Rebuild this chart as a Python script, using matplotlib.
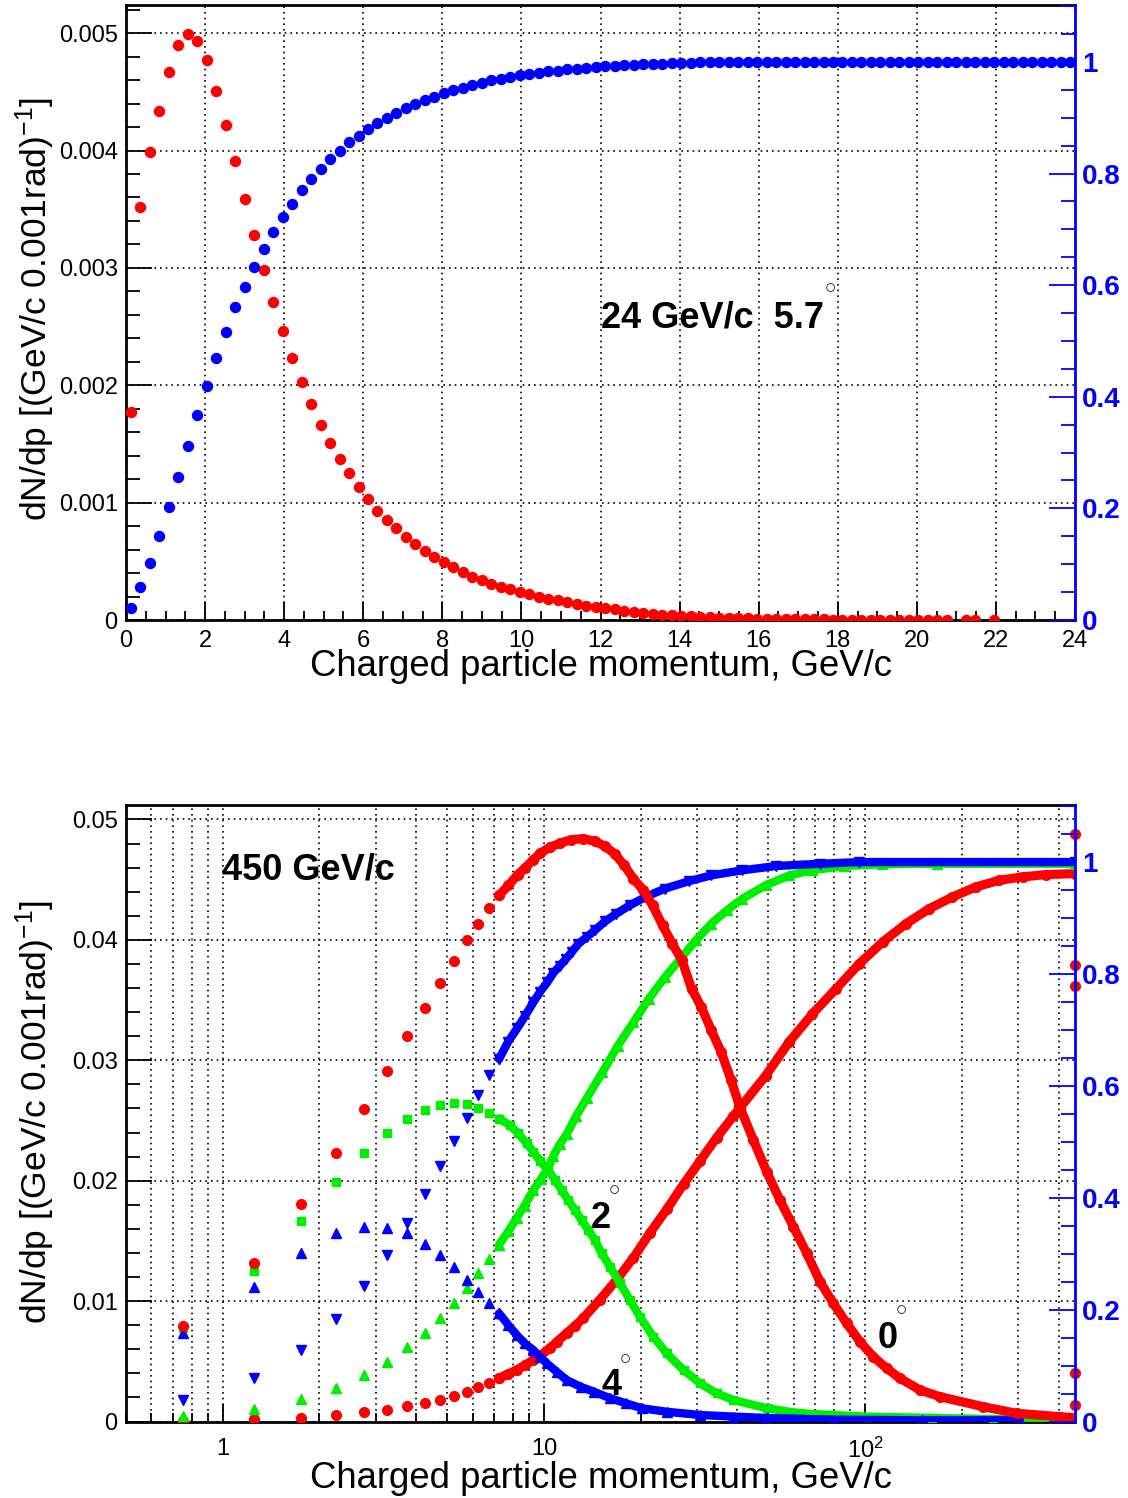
import numpy as np
import matplotlib.pyplot as plt
from matplotlib.ticker import MultipleLocator, LogLocator, NullFormatter

plt.rcParams['font.family'] = ['Liberation Sans', 'DejaVu Sans']
plt.rcParams['mathtext.fontset'] = 'custom'
plt.rcParams['mathtext.rm'] = 'Liberation Sans'
plt.rcParams['mathtext.it'] = 'Liberation Sans:italic'
plt.rcParams['mathtext.bf'] = 'Liberation Sans:bold'

# ---------------- 24 GeV/c, 5.7 deg : 100 bins of 0.24 GeV/c ----------------
p24 = np.arange(100) * 0.24 + 0.12
# dN/dp in units of 1e-3, nan = empty bin
dndp24 = [1.77, 3.52, 3.99, 4.34, 4.67, 4.90, 4.99, 4.93, 4.77, 4.51,
          4.22, 3.91, 3.59, 3.28, 2.98, 2.71, 2.46, 2.23, 2.03, 1.84,
          1.66, 1.51, 1.37, 1.25, 1.13, 1.03, 0.93, 0.85, 0.78, 0.71,
          0.65, 0.59, 0.54, 0.49, 0.45, 0.41, 0.37, 0.34, 0.31, 0.28,
          0.26, 0.24, 0.22, 0.20, 0.18, 0.17, 0.15, 0.14, 0.12, 0.11,
          0.10, 0.09, 0.08, 0.07, 0.06, 0.053, 0.046, 0.040, 0.035, 0.031,
          0.027, 0.024, 0.021, 0.018, 0.016, 0.014, 0.012, 0.011, 0.009, 0.008,
          0.007, 0.006, 0.005, 0.0045, 0.004, 0.0035, 0.003, 0.0026, 0.0022, 0.0019,
          0.0016, 0.0014, 0.0012, 0.001, 0.0009, 0.0008, 0.0007, np.nan, 0.0005, 0.0005,
          np.nan, 0.0003, np.nan, np.nan, np.nan, np.nan, np.nan, np.nan, np.nan, np.nan]
# integrated fraction (right axis)
frac24 = [0.021, 0.059, 0.102, 0.150, 0.203, 0.256, 0.312, 0.367, 0.419, 0.470,
          0.516, 0.561, 0.597, 0.632, 0.665, 0.696, 0.722, 0.746, 0.770, 0.790,
          0.809, 0.826, 0.841, 0.856, 0.868, 0.880, 0.891, 0.900, 0.909, 0.918,
          0.925, 0.931, 0.938, 0.944, 0.949, 0.954, 0.958, 0.962, 0.967, 0.970,
          0.973, 0.976, 0.978, 0.981, 0.983, 0.984, 0.987, 0.988, 0.990, 0.991,
          0.992, 0.993, 0.994, 0.995, 0.996, 0.997, 0.997, 0.998, 0.998, 0.998,
          0.999, 0.999, 0.999, 0.999, 0.999, 0.999, 0.999, 0.999, 0.999, 0.999,
          1.0, 1.0, 1.0, 1.0, 1.0, 1.0, 1.0, 1.0, 1.0, 1.0,
          1.0, 1.0, 1.0, 1.0, 1.0, 1.0, 1.0, 1.0, 1.0, 1.0,
          1.0, 1.0, 1.0, 1.0, 1.0, 1.0, 1.0, 1.0, 1.0, 1.0]

# ---------------- 450 GeV/c : 0.5 GeV/c bins, angles 0, 2, 4 ----------------
p450 = [0.75, 1.25, 1.75, 2.25, 2.75, 3.25, 3.75, 4.25, 4.75, 5.25, 5.75, 6.25, 6.75, 7.25]
dn0 = [0.00793, 0.01315, 0.01808, 0.02228, 0.02593, 0.02911, 0.03199, 0.03434,
       0.03642, 0.03824, 0.03996, 0.04134, 0.04267, 0.04369]
dn2 = [0.00773, 0.01252, 0.01667, 0.0199, 0.02231, 0.0240, 0.0251, 0.02585,
       0.02629, 0.02641, 0.02635, 0.026, 0.02563, 0.02516]
dn4 = [0.00732, 0.01119, 0.01398, 0.01562, 0.01617, 0.01608, 0.01562, 0.01473,
       0.01382, 0.01285, 0.01174, 0.01077, 0.00981, 0.00898]
cum0 = [0.0015, 0.004, 0.0068, 0.0116, 0.0165, 0.0206, 0.0278, 0.0326,
        0.0385, 0.0462, 0.0534, 0.0613, 0.0695, 0.0774]
cum2 = [0.0099, 0.0219, 0.0398, 0.0606, 0.0833, 0.1061, 0.1323, 0.158,
        0.185, 0.2118, 0.2387, 0.2656, 0.2907, 0.3163]
cum4 = [0.0385, 0.0785, 0.128, 0.1837, 0.2416, 0.2984, 0.355, 0.406,
        0.4567, 0.5014, 0.5434, 0.584, 0.619, 0.648]

# above ~7 GeV/c the bins merge into bands: values read along each band
dn0_p = [7.25, 7.75, 8.28, 8.75, 9.26, 9.74, 10.46, 11.23, 12.17, 13.25, 14.38, 15.5,
         16.6, 17.8, 19.0, 20.4, 21.8, 23.4, 25.1, 26.9, 28.8, 30.9, 33.2, 35.6, 38.2,
         40.6, 44.9, 49.4, 54.3, 59.8, 65.8, 72.4, 79.6, 87.6, 96.4, 106, 116.7, 128.4,
         148.3, 171, 233, 296, 404, 449.75]
dn0_v = [0.04369, 0.04452, 0.04541, 0.04599, 0.04666, 0.0472, 0.0477, 0.04803, 0.04832,
         0.0484, 0.0482, 0.04776, 0.04715, 0.04618, 0.04508, 0.04411, 0.04286, 0.0412,
         0.03968, 0.0383, 0.03595, 0.03442, 0.03249, 0.0307, 0.0284, 0.0262, 0.02336,
         0.02073, 0.01838, 0.01617, 0.01396, 0.0116, 0.00981, 0.00815, 0.00662, 0.00538,
         0.00441, 0.00358, 0.00261, 0.00206, 0.00123, 0.00068, 0.0004, 0.0003]
dn2_p = [7.25, 7.84, 8.32, 8.84, 9.27, 9.72, 10.32, 10.83, 11.36, 11.91, 12.5, 13.11,
         13.75, 14.42, 15.13, 16.06, 17.25, 18.53, 19.9, 21.9, 24.1, 27.2, 30.6, 34.5,
         38.9, 49.4, 62.7, 79.3, 101, 162, 250, 404]
dn2_v = [0.02516, 0.0246, 0.02392, 0.02309, 0.02239, 0.02164, 0.02087, 0.02004, 0.01921,
         0.01838, 0.01755, 0.01672, 0.01589, 0.01506, 0.01396, 0.01285, 0.01147, 0.01008,
         0.0087, 0.00704, 0.00566, 0.00427, 0.00317, 0.00234, 0.00178, 0.0011, 0.00068,
         0.00054, 0.0004, 0.0003, 0.0002, 0.0001]
dn4_p = [7.25, 7.75, 8.23, 8.72, 9.27, 9.75, 10.2, 10.96, 11.77, 13.0, 14.3, 16.1, 18.0,
         20.2, 24.1, 30.6, 38.9, 49, 80, 150, 303]
dn4_v = [0.00898, 0.00801, 0.00718, 0.00649, 0.00593, 0.00535, 0.00483, 0.00413, 0.00344,
         0.00289, 0.00247, 0.00193, 0.00151, 0.0011, 0.00081, 0.00054, 0.00041, 0.0003,
         0.00015, 0.0001, 0.0001]
cum0_p = [7.25, 7.75, 8.23, 8.75, 9.27, 9.75, 10.45, 11.0, 11.77, 12.5, 13.26, 14.95, 16.85,
          18.98, 21.4, 24.1, 27.2, 30.6, 34.5, 38.9, 40.8, 49.0, 57.9, 68.5, 81.0, 95.8,
          113.3, 134, 158.3, 187, 221, 261.6, 309, 365, 449.75]
cum0_v = [0.0774, 0.0850, 0.0923, 0.101, 0.110, 0.118, 0.131, 0.143, 0.158, 0.171, 0.185,
          0.218, 0.2536, 0.2925, 0.3373, 0.379, 0.424, 0.4656, 0.5075, 0.546, 0.561, 0.618,
          0.678, 0.7285, 0.773, 0.818, 0.857, 0.8898, 0.9167, 0.9376, 0.9556, 0.9674,
          0.9735, 0.9776, 0.9794]
cum2_p = [7.25, 7.75, 8.23, 8.7, 9.27, 9.77, 10.32, 10.7, 11.2, 11.77, 12.6, 13.6, 15.2,
          17.0, 19.0, 21.2, 23.8, 26.6, 29.7, 33.2, 37.1, 41.5, 49.0, 57.9, 68.5, 85.7,
          113, 167, 449.75]
cum2_v = [0.3163, 0.340, 0.364, 0.386, 0.4136, 0.4328, 0.4538, 0.4746, 0.4955, 0.5134,
          0.5462, 0.578, 0.624, 0.672, 0.7136, 0.7554, 0.794, 0.827, 0.86, 0.89, 0.9137,
          0.9346, 0.9584, 0.976, 0.9853, 0.993, 0.996, 0.997, 0.997]
cum4_p = [7.25, 7.74, 8.27, 8.75, 9.26, 9.74, 10.24, 10.7, 11.23, 11.72, 12.2, 12.8, 13.6,
          14.4, 15.5, 16.8, 18.5, 20.7, 23.8, 28.2, 33.2, 41.5, 52.9, 72.5, 95.8, 449.75]
cum4_v = [0.648, 0.679, 0.7034, 0.7255, 0.749, 0.7685, 0.785, 0.802, 0.815, 0.827, 0.839,
          0.854, 0.866, 0.878, 0.894, 0.9077, 0.9226, 0.9376, 0.9525, 0.9656, 0.9763,
          0.9853, 0.993, 0.997, 1.0, 1.0]
# stray red points in the last bin (right-axis units)
edge_p = [449.75, 449.75, 449.75, 449.75, 449.75]
edge_v = [1.051, 0.816, 0.779, 0.087, 0.030]

RED, GREEN, BLUE = '#ff0000', '#00ee00', '#0000ff'
DOT = (0, (1, 2.4))

W, H = 1128, 1498
fig = plt.figure(figsize=(W / 100, H / 100), dpi=100)


def frame(ax, axr):
    for s in ['left', 'bottom', 'top']:
        ax.spines[s].set_linewidth(2)
    ax.spines['right'].set_visible(False)
    for s in ['left', 'bottom', 'top']:
        axr.spines[s].set_visible(False)
    axr.spines['right'].set_color('blue')
    axr.spines['right'].set_linewidth(2)
    ax.tick_params(axis='y', which='major', direction='in', length=19, width=1.3,
                   labelsize=17, pad=6)
    ax.tick_params(axis='y', which='minor', direction='in', length=10, width=1.3)
    ax.tick_params(axis='x', which='major', direction='in', length=13, width=1.3,
                   labelsize=17, pad=7)
    ax.tick_params(axis='x', which='minor', direction='in', length=6.5, width=1.3)
    axr.set_ylim(0, 1.102)
    axr.set_yticks([0, 0.2, 0.4, 0.6, 0.8, 1.0], labels=['0', '0.2', '0.4', '0.6', '0.8', '1'],
                   fontsize=20, fontweight='bold', color='blue')
    axr.yaxis.set_minor_locator(MultipleLocator(0.05))
    axr.tick_params(axis='y', which='major', direction='in', length=19, width=1.3,
                    color='blue', pad=5)
    axr.tick_params(axis='y', which='minor', direction='in', length=10, width=1.3,
                    color='blue')
    ax.set_axisbelow(True)
    ax.grid(True, which='major', ls=DOT, color='black', lw=1.2)


def band(ax, p, v, color, marker, ms, lw, z, tr=None):
    # markers at every read point, joined by a thick line where the bins merge
    kw = {} if tr is None else {'transform': tr}
    ax.plot(p, v, color=color, lw=lw, marker=marker, ms=ms, mec=color, mfc=color,
            solid_capstyle='round', solid_joinstyle='round', zorder=z, **kw)


# ----- top panel -----
ax1 = fig.add_axes([126 / W, 1 - 620 / H, 949 / W, 615 / H])
ax1.set_xlim(0, 24)
ax1.set_ylim(0, 0.00524)
ax1r = ax1.twinx()
frame(ax1, ax1r)
ax1.set_xticks(np.arange(0, 25, 2), labels=['%d' % v for v in range(0, 25, 2)])
ax1.xaxis.set_minor_locator(MultipleLocator(0.5))
ax1.set_yticks([0, 0.001, 0.002, 0.003, 0.004, 0.005],
               labels=['0', '0.001', '0.002', '0.003', '0.004', '0.005'])
ax1.yaxis.set_minor_locator(MultipleLocator(0.0002))

ax1.plot(p24, np.array(dndp24) * 1e-3, 'o', color=RED, ms=7.2, mec=RED, zorder=3)
ax1.plot(p24, frac24, 'o', color=BLUE, ms=7.2, mec=BLUE, zorder=3,
         transform=ax1r.transData)

ax1.text(0.5005, 0.4764, '24 GeV/c  5.7', transform=ax1.transAxes, fontsize=26,
         fontweight='bold', va='baseline', ha='left')
ax1.text(0.7418, 0.5415, r'$\circ$', transform=ax1.transAxes, fontsize=16,
         ha='center', va='center', color='#222222')

# ----- bottom panel -----
ax2 = fig.add_axes([126 / W, 1 - 1421.5 / H, 949 / W, 616.5 / H])
ax2.set_xscale('log')
ax2.set_xlim(0.5, 450)
ax2.set_ylim(0, 0.0512)
ax2r = ax2.twinx()
frame(ax2, ax2r)
ax2.set_xticks([1, 10, 100], labels=['1', '10', '$10^{2}$'])
ax2.xaxis.set_minor_locator(LogLocator(base=10, subs=np.arange(2, 10)))
ax2.xaxis.set_minor_formatter(NullFormatter())
ax2.tick_params(axis='x', which='major', pad=12)
ax2.grid(True, which='minor', axis='x', ls=DOT, color='black', lw=1.2)
ax2.set_yticks([0, 0.01, 0.02, 0.03, 0.04, 0.05],
               labels=['0', '0.01', '0.02', '0.03', '0.04', '0.05'])
ax2.yaxis.set_minor_locator(MultipleLocator(0.002))

tr = ax2r.transData
# integrated fractions (right axis)
band(ax2, cum0_p, cum0_v, RED, 'o', 7.0, 6.6, 3.1, tr)
band(ax2, cum2_p, cum2_v, GREEN, '^', 7.0, 6.0, 3.2, tr)
band(ax2, cum4_p, cum4_v, BLUE, 'v', 7.0, 6.0, 3.3, tr)
ax2.plot(p450, cum0, 'o', color=RED, ms=7.0, zorder=3.1, transform=tr)
ax2.plot(p450, cum2, '^', color=GREEN, ms=7.0, zorder=3.2, transform=tr)
ax2.plot(p450, cum4, 'v', color=BLUE, ms=7.0, zorder=3.3, transform=tr)
ax2.plot(edge_p, edge_v, 'o', color=RED, ms=7.0, zorder=3.4, transform=tr, clip_on=False)
# distributions (left axis)
band(ax2, dn2_p, dn2_v, GREEN, 's', 6.3, 6.0, 4.1)
band(ax2, dn4_p, dn4_v, BLUE, '^', 7.0, 6.0, 4.2)
band(ax2, dn0_p, dn0_v, RED, 'o', 7.0, 6.6, 4.3)
ax2.plot(p450, dn2, 's', color=GREEN, ms=6.3, zorder=4.1)
ax2.plot(p450, dn4, '^', color=BLUE, ms=7.0, zorder=4.2)
ax2.plot(p450, dn0, 'o', color=RED, ms=7.0, zorder=4.3)

ax2.text(0.1012, 0.8799, '450 GeV/c', transform=ax2.transAxes, fontsize=26,
         fontweight='bold', va='baseline', ha='left')
for lab, x, y, cx, cy in [('2', 0.4897, 0.3134, 0.5145, 0.3771),
                          ('4', 0.5013, 0.0430, 0.5255, 0.1035),
                          ('0', 0.7921, 0.1187, 0.8167, 0.1825)]:
    ax2.text(x, y, lab, transform=ax2.transAxes, fontsize=26, fontweight='bold',
             va='baseline', ha='left', zorder=6)
    ax2.text(cx, cy, r'$\circ$', transform=ax2.transAxes, fontsize=16,
             ha='center', va='center', color='#222222', zorder=6)

# axis titles
for yc_x, yc_y in [(1 - 667 / H, 1 - 309 / H), (1 - 1478 / H, 1 - 1112 / H)]:
    fig.text(600.5 / W, yc_x, 'Charged particle momentum, GeV/c', ha='center',
             va='center', fontsize=26.3)
    fig.text(35 / W, yc_y, 'dN/dp [(GeV/c 0.001rad)$^{-1}$]', rotation=90,
             ha='center', va='center', fontsize=25.5)

fig.savefig('out.png', dpi=100)
